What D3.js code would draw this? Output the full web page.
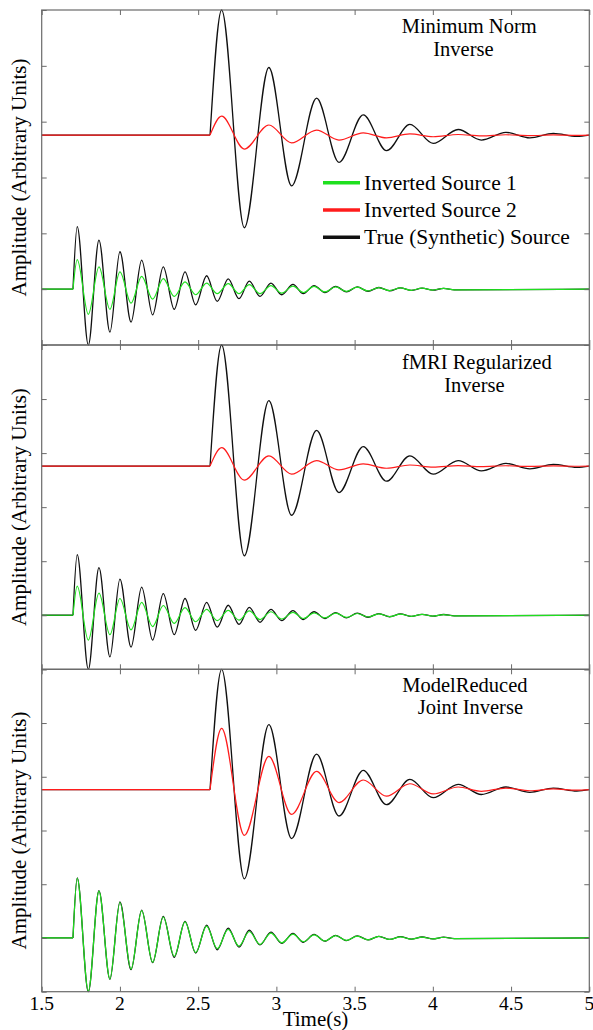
<!DOCTYPE html>
<html>
<head>
<meta charset="utf-8">
<script src="https://cdn.jsdelivr.net/npm/d3@7/dist/d3.min.js"></script>
<style>
  html, body { margin: 0; padding: 0; background: #fff; }
  svg { display: block; }
</style>
</head>
<body>
<svg id="chart" width="593" height="1030"></svg>
<script>
// ---- axis ticks and labels ----
const timeTicks = [1.5, 2, 2.5, 3, 3.5, 4, 4.5, 5];
const timeTickLabels = ["1.5", "2", "2.5", "3", "3.5", "4", "4.5", "5"];
const ampTicks = [-1, 0, 1, 2, 3, 4, 5];
const seriesNames = ["Inverted Source 1", "Inverted Source 2", "True (Synthetic) Source"];
const panelTitles = [
  ["Minimum Norm", "Inverse"],
  ["fMRI Regularized", "Inverse"],
  ["ModelReduced", "Joint Inverse"]
];

// ---- source 1: onset, resting level, times of successive peaks / troughs ----
const source1Onset = 1.70;
const source1Level = 0;
const source1Times = [1.727, 1.798, 1.866, 1.936, 2.000, 2.071, 2.139, 2.209, 2.277, 2.347,
  2.416, 2.484, 2.554, 2.622, 2.692, 2.761, 2.827, 2.895, 2.965, 3.034,
  3.106, 3.172, 3.241, 3.310, 3.379, 3.448, 3.517, 3.586, 3.655, 3.724,
  3.793, 3.862, 3.931, 4.000, 4.069, 4.138];
const trueSource1 = [1.12, -1.00, 0.88, -0.77, 0.67, -0.59, 0.52, -0.46, 0.40, -0.36,
  0.31, -0.28, 0.24, -0.22, 0.185, -0.17, 0.145, -0.13, 0.11, -0.10,
  0.085, -0.08, 0.065, -0.06, 0.05, -0.048, 0.04, -0.037, 0.03, -0.028,
  0.024, -0.022, 0.018, -0.017, 0.014, -0.013];
const minNormSource1 = [0.53, -0.45, 0.40, -0.36, 0.31, -0.25, 0.23, -0.18, 0.19, -0.13,
  0.13, -0.10, 0.11, -0.08, 0.10, -0.08, 0.08, -0.08, 0.065, -0.07,
  0.055, -0.06, 0.05, -0.05, 0.04, -0.04, 0.035, -0.033, 0.028, -0.026,
  0.022, -0.02, 0.017, -0.016, 0.013, -0.012];
const fmriSource1 = [0.54, -0.46, 0.41, -0.36, 0.31, -0.27, 0.24, -0.21, 0.18, -0.15,
  0.14, -0.12, 0.11, -0.10, 0.09, -0.09, 0.08, -0.08, 0.065, -0.07,
  0.055, -0.06, 0.045, -0.05, 0.04, -0.04, 0.032, -0.032, 0.026, -0.025,
  0.021, -0.02, 0.016, -0.015, 0.012, -0.011];
const jointSource1 = [1.11, -0.99, 0.87, -0.76, 0.66, -0.58, 0.51, -0.45, 0.39, -0.34,
  0.30, -0.27, 0.22, -0.20, 0.16, -0.15, 0.12, -0.12, 0.09, -0.09,
  0.07, -0.07, 0.056, -0.056, 0.045, -0.045, 0.035, -0.035, 0.028, -0.028,
  0.022, -0.022, 0.017, -0.017, 0.013, -0.013];

// ---- source 2 ----
const source2Onset = 2.576;
const source2Level = 2.76;
const source2Times = [2.650, 2.795, 2.952, 3.097, 3.257, 3.400, 3.555, 3.704,
  3.853, 4.002, 4.162, 4.310, 4.467, 4.620, 4.770, 4.920];
const trueSource2 = [2.24, -1.66, 1.21, -0.91, 0.66, -0.49, 0.36, -0.28,
  0.19, -0.15, 0.10, -0.09, 0.05, -0.05, 0.03, -0.025];
const minNormSource2 = [0.34, -0.25, 0.18, -0.14, 0.09, -0.09, 0.04, -0.05,
  0.02, -0.03, 0.01, -0.015, 0.006, -0.01, 0.004, -0.004];
const fmriSource2 = [0.34, -0.26, 0.19, -0.15, 0.10, -0.07, 0.04, -0.04,
  0.02, -0.02, 0.01, -0.01, 0.006, -0.006, 0.003, -0.003];
const jointSource2 = [1.14, -0.85, 0.62, -0.46, 0.34, -0.24, 0.18, -0.12,
  0.11, -0.08, 0.05, -0.03, 0.03, -0.02, 0.015, -0.01];

// ---- layout ----
const svg = d3.select("#chart");
const plotLeft = 41.7, plotRight = 589.3;
const panels = [
  { top: 10,    bottom: 345,   s1: minNormSource1, s2: minNormSource2,
    titlePos: [[401.7, 33], [433.3, 56]] },
  { top: 345,   bottom: 669.3, s1: fmriSource1,    s2: fmriSource2,
    titlePos: [[402, 369], [444.3, 391.7]] },
  { top: 669.3, bottom: 991.7, s1: jointSource1,   s2: jointSource2,
    titlePos: [[402.3, 691.7], [417.7, 714]] }
];
const colors = { s1: "#1ee01e", s2: "#ff1c1c", truth: "#101010" };
const frameColor = "#6a6a6a";
const fontFamily = "'Liberation Serif', 'Times New Roman', Times, serif";
const fontSizes = { title: 20.5, axisLabel: 21, tick: 19.5, legend: 21.5 };

const x = d3.scaleLinear().domain([1.5, 5]).range([plotLeft, plotRight]);

function addText(sel, size) {
  return sel.append("text").attr("font-family", fontFamily).attr("font-size", size).attr("fill", "#000");
}

// Flat resting segment up to onset, then a smooth oscillation through the peaks/troughs.
function tracePath(y, onset, level, times, values) {
  const pre = [[1.5, level], [onset, level]];
  const post = [[onset, level]]
    .concat(times.map((t, i) => [t, level + values[i]]))
    .concat([[5, level]]);
  const flat = d3.line().x(d => x(d[0])).y(d => y(d[1]));
  const wave = d3.line().x(d => x(d[0])).y(d => y(d[1])).curve(d3.curveMonotoneX);
  return flat(pre) + wave(post);
}

panels.forEach((p, idx) => {
  const y = d3.scaleLinear().domain([-1, 5]).range([p.bottom, p.top]);
  const g = svg.append("g");

  // true sources underneath
  g.append("path").attr("d", tracePath(y, source1Onset, source1Level, source1Times, trueSource1))
    .attr("fill", "none").attr("stroke", colors.truth).attr("stroke-width", 1.3);
  g.append("path").attr("d", tracePath(y, source2Onset, source2Level, source2Times, trueSource2))
    .attr("fill", "none").attr("stroke", colors.truth).attr("stroke-width", 1.3);
  // inverted estimates on top
  g.append("path").attr("d", tracePath(y, source2Onset, source2Level, source2Times, p.s2))
    .attr("fill", "none").attr("stroke", colors.s2).attr("stroke-width", 1.2);
  g.append("path").attr("d", tracePath(y, source1Onset, source1Level, source1Times, p.s1))
    .attr("fill", "none").attr("stroke", colors.s1).attr("stroke-width", 1.2);

  // axes with inward ticks on all four sides
  const tickLen = 5;
  const axes = [
    d3.axisLeft(y).tickValues(ampTicks).tickSizeInner(-tickLen).tickSizeOuter(0).tickFormat(""),
    d3.axisRight(y).tickValues(ampTicks).tickSizeInner(-tickLen).tickSizeOuter(0).tickFormat(""),
    d3.axisTop(x).tickValues(timeTicks).tickSizeInner(-tickLen).tickSizeOuter(0).tickFormat(""),
    d3.axisBottom(x).tickValues(timeTicks).tickSizeInner(-tickLen).tickSizeOuter(0).tickFormat("")
  ];
  const shifts = [[plotLeft, 0], [plotRight, 0], [0, p.top], [0, p.bottom]];
  axes.forEach((ax, i) => {
    const a = g.append("g").attr("transform", `translate(${shifts[i][0]},${shifts[i][1]})`).call(ax);
    a.select(".domain").remove();
    a.selectAll("line").attr("stroke", frameColor).attr("stroke-width", 1);
  });
  g.append("rect")
    .attr("x", plotLeft).attr("y", p.top)
    .attr("width", plotRight - plotLeft).attr("height", p.bottom - p.top)
    .attr("fill", "none").attr("stroke", frameColor).attr("stroke-width", 1.2);

  // panel title
  panelTitles[idx].forEach((line, k) => {
    addText(g, fontSizes.title).attr("x", p.titlePos[k][0]).attr("y", p.titlePos[k][1]).text(line);
  });

  // y-axis label
  addText(g, fontSizes.axisLabel)
    .attr("transform", `translate(25.5,${(p.top + p.bottom) / 2}) rotate(-90)`)
    .attr("text-anchor", "middle")
    .text("Amplitude (Arbitrary Units)");
});

// time tick labels on the bottom panel
const last = panels[panels.length - 1];
timeTicks.forEach((d, i) => {
  addText(svg, fontSizes.tick).attr("x", x(d)).attr("y", last.bottom + 18.5)
    .attr("text-anchor", "middle").text(timeTickLabels[i]);
});
addText(svg, fontSizes.axisLabel).attr("x", (plotLeft + plotRight) / 2).attr("y", 1025.5)
  .attr("text-anchor", "middle").text("Time(s)");

// legend in the first panel
const legendColors = [colors.s1, colors.s2, colors.truth];
const legendRows = [182.7, 210, 237.3];
seriesNames.forEach((name, i) => {
  svg.append("line").attr("x1", 323).attr("x2", 360)
    .attr("y1", legendRows[i]).attr("y2", legendRows[i])
    .attr("stroke", legendColors[i]).attr("stroke-width", 3.5);
  addText(svg, fontSizes.legend).attr("x", 364).attr("y", legendRows[i] + 7).text(name);
});
</script>
</body>
</html>
